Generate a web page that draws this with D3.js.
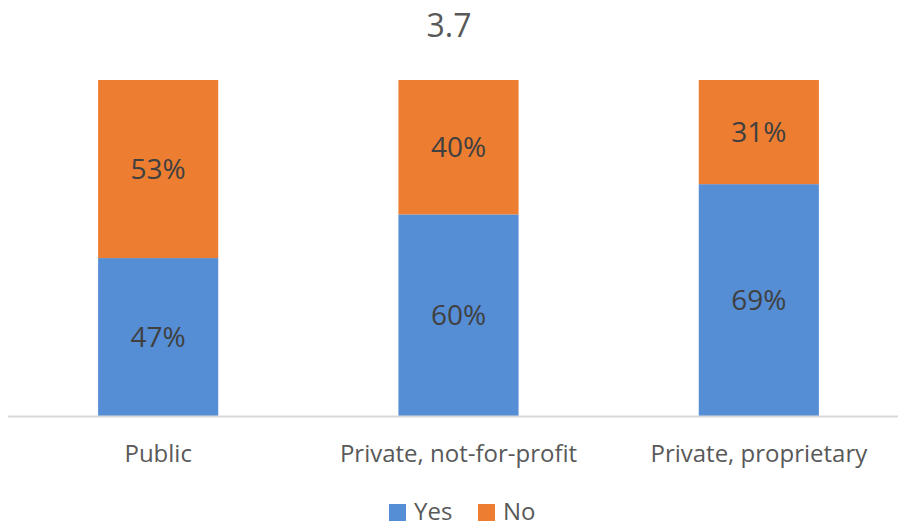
<!DOCTYPE html>
<html>
<head>
<meta charset="utf-8">
<script src="https://cdn.jsdelivr.net/npm/d3@7"></script>
<style>
  html, body { margin: 0; padding: 0; background: #fff; }
  svg { display: block; font-family: "Open Sans", sans-serif; }
</style>
</head>
<body>
<svg id="chart" width="898" height="527"></svg>
<script>
const title = "3.7";
const categories = ["Public", "Private, not-for-profit", "Private, proprietary"];
const seriesNames = ["Yes", "No"];
const yesValues = [47, 60, 69];
const noValues = [53, 40, 31];
const colors = ["#558ED5", "#ED7D31"];

const svg = d3.select("#chart");
const W = 898, H = 527;
const plotTop = 80, plotBottom = 416;

const x = d3.scaleBand().domain(categories).range([8, 909]).paddingInner(0.6).paddingOuter(0.3);
const y = d3.scaleLinear().domain([0, 100]).range([plotBottom, plotTop]);

const data = categories.map((c, i) => ({ cat: c, Yes: yesValues[i], No: noValues[i] }));
const stacked = d3.stack().keys(seriesNames)(data);

svg.append("text").attr("x", W / 2).attr("y", 37).attr("text-anchor", "middle")
  .attr("font-size", 32).attr("fill", "#595959").text(title);

const layers = svg.selectAll("g.layer").data(stacked).enter().append("g")
  .attr("fill", (d, i) => colors[i]);

layers.selectAll("rect").data(d => d).enter().append("rect")
  .attr("x", d => x(d.data.cat))
  .attr("width", x.bandwidth())
  .attr("y", d => y(d[1]))
  .attr("height", d => y(d[0]) - y(d[1]));

layers.selectAll("text").data(d => d).enter().append("text")
  .attr("x", d => x(d.data.cat) + x.bandwidth() / 2)
  .attr("y", d => (y(d[0]) + y(d[1])) / 2)
  .attr("dy", "0.36em")
  .attr("text-anchor", "middle")
  .attr("font-size", 28)
  .attr("fill", "#404040")
  .text(d => (d[1] - d[0]) + "%");

svg.append("line").attr("x1", 8).attr("x2", W).attr("y1", plotBottom + 0.5).attr("y2", plotBottom + 0.5)
  .attr("stroke", "#d9d9d9").attr("stroke-width", 2);

const xAxis = d3.axisBottom(x).tickSize(0).tickPadding(0);
const gx = svg.append("g").attr("transform", `translate(0,${plotBottom})`).call(xAxis);
gx.select(".domain").remove();
gx.selectAll("text").attr("font-size", 24).attr("font-family", "Open Sans, sans-serif")
  .attr("fill", "#595959").attr("dy", null).attr("y", 46);

// legend
const legendItems = [
  { name: seriesNames[0], color: colors[0], sx: 389, tx: 414 },
  { name: seriesNames[1], color: colors[1], sx: 478, tx: 503 }
];
const lg = svg.append("g");
legendItems.forEach(it => {
  lg.append("rect").attr("x", it.sx).attr("y", 504).attr("width", 17).attr("height", 17).attr("fill", it.color);
  lg.append("text").attr("x", it.tx).attr("y", 520).attr("font-size", 24).attr("fill", "#595959").text(it.name);
});
</script>
</body>
</html>
